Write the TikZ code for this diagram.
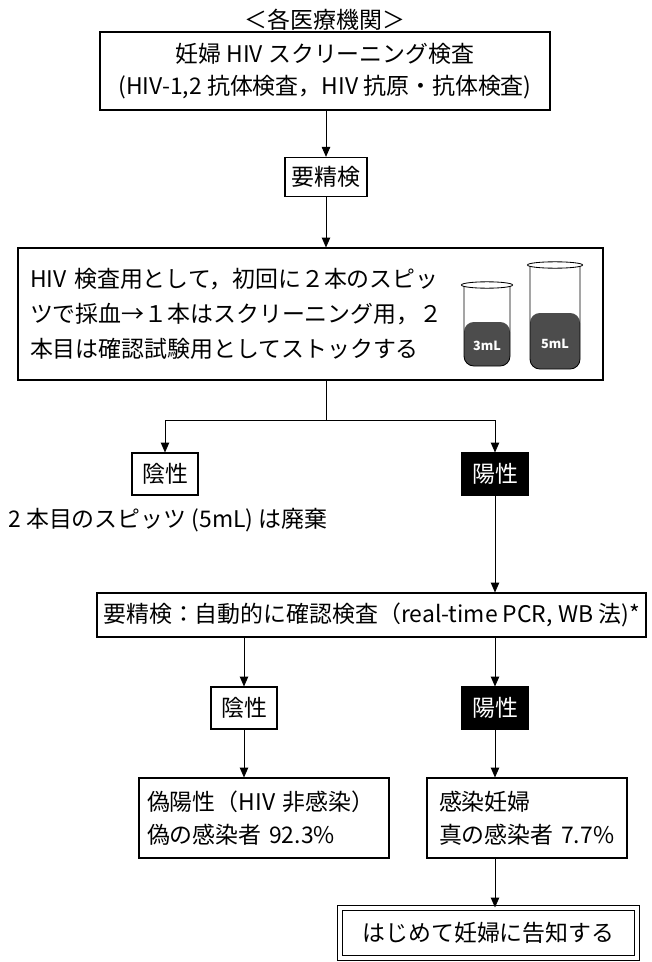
\documentclass[tikz,border=0pt]{standalone}
\usepackage{fontspec}
\setmainfont{Noto Sans CJK JP}
\usepackage{tikz}
\usetikzlibrary{arrows.meta, positioning, calc}

\begin{document}
\begin{tikzpicture}[
    font=\fontsize{16.3}{23.5}\selectfont,
    box/.style={draw, line width=0.8pt, inner sep=0pt, align=center},
    darkbox/.style={box, fill=black, text=white},
    flow/.style={-{Triangle[length=7pt,width=6pt]}, line width=0.6pt}
  ]
  \useasboundingbox (0,0) rectangle (16.275,-24.05);

  % Screening at each hospital
  \node (title) at (8.125, -0.5) {＜各医療機関＞};
  \node[box, minimum width=11.25cm, minimum height=1.95cm, font=\fontsize{16.3}{22.8}\selectfont] (screen) at (8.125, -1.775) {
    妊婦 HIV スクリーニング検査\\
    (HIV-1,2 抗体検査，HIV 抗原・抗体検査)
  };
  \node[box, minimum width=2.05cm, minimum height=0.98cm] (recheck) at (8.15, -4.425) {要精検};

  % Blood sampling with two tubes
  \node[box, text width=14.025cm, inner xsep=0.3cm, minimum height=3.3cm, align=left, font=\fontsize{16.3}{24.9}\selectfont] (sampling) at (7.7625, -7.85) {
    HIV 検査用として，初回に２本のスピッ\\
    ツで採血→１本はスクリーニング用，２\\
    本目は確認試験用としてストックする
  };

  \fill[black!70, rounded corners=7pt] (11.6,-8.05) -- (11.6,-9.15) -- (12.75,-9.15) -- (12.75,-8.05) -- cycle;
  \draw[line width=0.6pt, rounded corners=7pt] (11.6,-7.125) -- (11.6,-9.15) -- (12.75,-9.15) -- (12.75,-7.125);
  \draw[line width=0.6pt, fill=white] (12.175,-7.125) ellipse (0.64 and 0.08);
  \node[text=white, font=\fontsize{9}{9}\selectfont\bfseries] (small) at (12.175,-8.65) {3mL};

  \fill[black!70, rounded corners=7pt] (13.25,-7.825) -- (13.25,-9.225) -- (14.5,-9.225) -- (14.5,-7.825) -- cycle;
  \draw[line width=0.6pt, rounded corners=7pt] (13.25,-6.625) -- (13.25,-9.225) -- (14.5,-9.225) -- (14.5,-6.625);
  \draw[line width=0.6pt, fill=white] (13.875,-6.625) ellipse (0.69 and 0.08);
  \node[text=white, font=\fontsize{9}{9}\selectfont\bfseries] (large) at (13.875,-8.6) {5mL};

  % First result
  \coordinate (split) at (8.15, -10.5);
  \node[box, minimum width=1.65cm, minimum height=1.05cm] (neg1) at (4.125, -11.85) {陰性};
  \node[darkbox, minimum width=1.65cm, minimum height=1.05cm] (pos1) at (12.375, -11.85) {陽性};
  \node[anchor=west, inner sep=0pt] (discard) at (0.2, -13.0) {2 本目のスピッツ (5mL) は廃棄};

  % Confirmation test
  \node[box, minimum width=13.725cm, minimum height=1.1cm] (confirm) at (9.2875, -15.375) {要精検：自動的に確認検査（real-time PCR, WB 法)*};
  \node[box, minimum width=1.65cm, minimum height=1.05cm] (neg2) at (6.1, -17.7) {陰性};
  \node[darkbox, minimum width=1.65cm, minimum height=1.05cm] (pos2) at (12.375, -17.7) {陽性};

  \node[box, text width=5.85cm, inner xsep=0.2cm, minimum height=2cm, align=left] (falsepos) at (6.6, -20.45) {
    偽陽性（HIV 非感染）\\
    偽の感染者 92.3\%
  };
  \node[box, text width=4.4cm, inner xsep=0.3cm, minimum height=2cm, align=left] (infected) at (13.175, -20.45) {
    感染妊婦\\
    真の感染者 7.7\%
  };
  \node[box, double, double distance=2.2pt, minimum width=7.425cm, minimum height=1.25cm] (notify) at (12.2125, -23.325) {はじめて妊婦に告知する};

  % Connectors
  \draw[flow] (screen.south -| recheck) -- (recheck.north);
  \draw[flow] (recheck.south) -- (sampling.north -| recheck);
  \draw[line width=0.6pt] (sampling.south -| split) -- (split);
  \draw[flow] (split) -| (neg1.north);
  \draw[flow] (split) -| (pos1.north);
  \draw[flow] (pos1.south) -- (confirm.north -| pos1);
  \draw[flow] (confirm.south -| neg2) -- (neg2.north);
  \draw[flow] (confirm.south -| pos2) -- (pos2.north);
  \draw[flow] (neg2.south) -- (falsepos.north -| neg2);
  \draw[flow] (pos2.south) -- (infected.north -| pos2);
  \draw[flow] (infected.south -| pos2) -- (notify.north -| pos2);
\end{tikzpicture}
\end{document}
